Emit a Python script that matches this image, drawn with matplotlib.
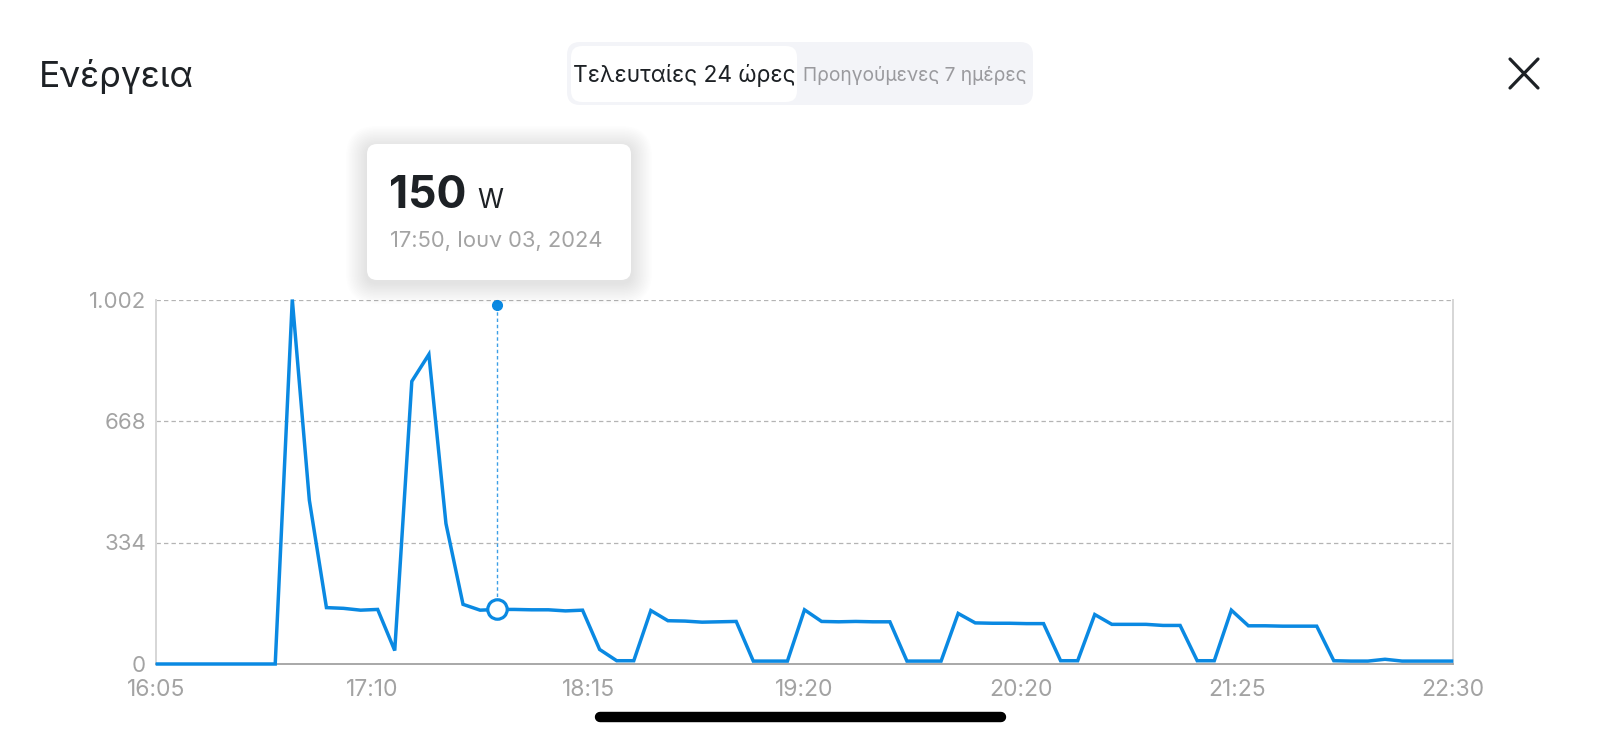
import numpy as np
import matplotlib
matplotlib.use("Agg")
import matplotlib.pyplot as plt
from matplotlib.patches import FancyBboxPatch
from matplotlib.lines import Line2D
from matplotlib.transforms import IdentityTransform

plt.rcParams['font.family'] = ['Inter', 'DejaVu Sans']

# ---------------- data ----------------
title = "Ενέργεια"
tab_labels = ["Τελευταίες 24 ώρες", "Προηγούμενες 7 ημέρες"]
x_tick_labels = ["16:05", "17:10", "18:15", "19:20", "20:20", "21:25", "22:30"]
y_ticks = [0, 334, 668, 1002]
y_tick_labels = ["0", "334", "668", "1.002"]

power_w = [0,
           0, 0, 0, 0, 0, 0, 0, 1002, 450, 155,
           153, 148, 150, 37, 777, 851, 386, 164, 148, 150,
           150, 149, 149, 146, 148, 40, 9, 9, 147, 119,
           118, 115, 116, 117, 8, 8, 8, 149, 117, 116,
           117, 116, 116, 8, 8, 8, 139, 113, 112, 112,
           111, 111, 9, 9, 136, 109, 109, 109, 106, 106,
           9, 9, 148, 105, 105, 104, 104, 104, 9, 8,
           8, 13, 8, 8, 8,
           8]

tooltip_index = 20
tooltip_value = "150"
tooltip_unit = "W"
tooltip_time = "17:50, Ιουν 03, 2024"

# ---------------- style ----------------
W, H = 1600, 739
BLUE = "#0a89e2"
GRAY_TXT = "#a3a3a3"

fig = plt.figure(figsize=(W / 100, H / 100), dpi=100)
fig.patch.set_facecolor("white")
ID = IdentityTransform()


def py(y):
    return H - y


ax_left, ax_right, ax_top, ax_bottom = 155.7, 1453.3, 299.5, 664.0
ax = fig.add_axes([ax_left / W, (H - ax_bottom) / H,
                   (ax_right - ax_left) / W, (ax_bottom - ax_top) / H])

x = np.arange(len(power_w))
ax.set_xlim(x[0], x[-1])
ax.set_ylim(0, 1002)

# grid lines
for yv in y_ticks[1:]:
    ax.axhline(yv, color="#b4b4b4", lw=0.9, dashes=(3.5, 2.5), zorder=1)

ax.plot(x, power_w, color=BLUE, lw=2.5, solid_joinstyle="miter",
        solid_capstyle="butt", clip_on=False, zorder=3)

# tooltip guide
top_frac = (ax_bottom - 305) / (ax_bottom - ax_top)
val = power_w[tooltip_index]
ax.plot([tooltip_index, tooltip_index], [val, 1002 * top_frac], color="#3d9fe6",
        lw=1.0, dashes=(2.5, 2), zorder=2, clip_on=False)
ax.plot([tooltip_index], [1002 * top_frac], marker="o", ms=7, color=BLUE,
        mec=BLUE, clip_on=False, zorder=4)
ax.plot([tooltip_index], [val], marker="o", ms=14, mfc="white", mec=BLUE,
        mew=2.3, clip_on=False, zorder=5)

# spines
ax.spines["top"].set_visible(False)
ax.spines["left"].set_color("#d6d6d6")
ax.spines["left"].set_linewidth(1.4)
ax.spines["right"].set_color("#d6d6d6")
ax.spines["right"].set_linewidth(1.4)
ax.spines["bottom"].set_color("#9a9a9a")
ax.spines["bottom"].set_linewidth(1.2)

ax.set_yticks(y_ticks)
ax.set_yticklabels(y_tick_labels)
ax.set_xticks(np.linspace(x[0], x[-1], len(x_tick_labels)))
ax.set_xticklabels(x_tick_labels)
ax.tick_params(axis="both", length=0, labelcolor=GRAY_TXT)
ax.tick_params(axis="y", pad=7, labelsize=16)
ax.tick_params(axis="x", pad=11, labelsize=16.5)

# ---------------- header ----------------
fig.text(39, py(87), title, transform=ID, fontsize=25.5, color="#1d2125",
         ha="left", va="baseline")

# tabs
fig.add_artist(FancyBboxPatch((567, py(105)), 466, 63,
                              boxstyle="round,pad=0,rounding_size=13",
                              transform=ID, fc="#f3f4f8", ec="none"))
fig.add_artist(FancyBboxPatch((571, py(102)), 226, 56,
                              boxstyle="round,pad=0,rounding_size=11",
                              transform=ID, fc="white", ec="none"))
fig.text(684, py(82), tab_labels[0], transform=ID, fontsize=16.3,
         color="#1d2125", ha="center", va="baseline")
fig.text(915, py(81), tab_labels[1], transform=ID, fontsize=13.8,
         color="#9a9a9e", ha="center", va="baseline")

# close icon
for (x0, y0, x1, y1) in [(1510, 59, 1538, 88), (1510, 88, 1538, 59)]:
    fig.add_artist(Line2D([x0, x1], [py(y0), py(y1)], transform=ID,
                          color="#1d2125", lw=2.3, solid_capstyle="round"))

# ---------------- tooltip ----------------
bx, by, bw, bh = 367, 144, 264, 136
for i in range(14):
    g = 1.5 * (i + 1)
    fig.add_artist(FancyBboxPatch((bx - g, py(by + bh) - g - 3), bw + 2 * g, bh + 2 * g,
                                  boxstyle="round,pad=0,rounding_size=%f" % (10 + g),
                                  transform=ID, fc="black", ec="none", alpha=0.007))
fig.add_artist(FancyBboxPatch((bx, py(by + bh)), bw, bh,
                              boxstyle="round,pad=0,rounding_size=10",
                              transform=ID, fc="white", ec="none"))
fig.text(389, py(208), tooltip_value, transform=ID, fontsize=32,
         fontweight="bold", color="#1d2125", ha="left", va="baseline")
fig.text(477, py(208), tooltip_unit, transform=ID, fontsize=19,
         color="#1d2125", ha="left", va="baseline")
fig.text(390, py(247), tooltip_time, transform=ID, fontsize=15.8,
         color=GRAY_TXT, ha="left", va="baseline")

# home indicator
fig.add_artist(Line2D([600, 1001], [py(717), py(717)], transform=ID,
                      color="black", lw=7.5, solid_capstyle="round"))

fig.savefig("out.png", dpi=100, facecolor="white")
